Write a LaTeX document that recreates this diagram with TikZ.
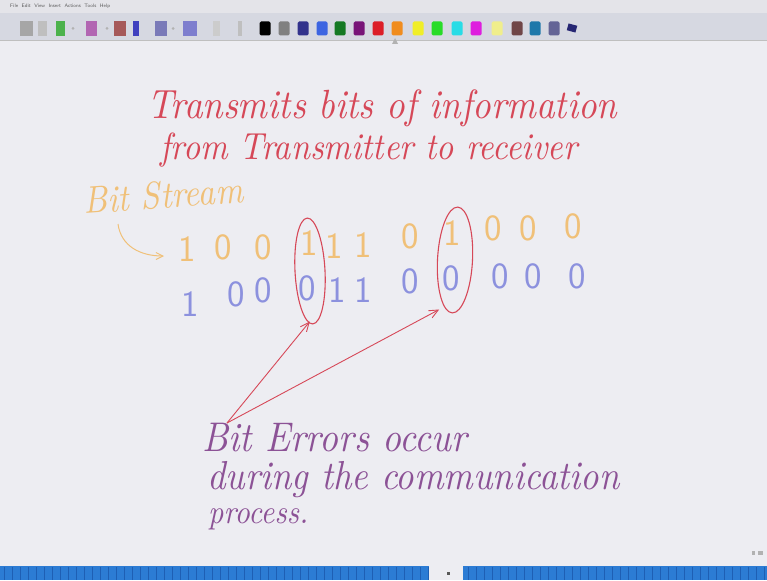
\documentclass[tikz,border=0pt]{standalone}
\usepackage{graphicx}
\usetikzlibrary{arrows.meta,shapes.geometric}
\definecolor{bg}{RGB}{237,237,242}
\definecolor{menubg}{RGB}{228,228,233}
\definecolor{toolbg}{RGB}{214,216,225}
\definecolor{inkred}{RGB}{214,72,88}
\definecolor{inkorange}{RGB}{240,192,120}
\definecolor{inkblue}{RGB}{140,145,222}
\definecolor{inkpurple}{RGB}{140,82,150}
\definecolor{barblue}{RGB}{44,124,212}
\definecolor{bardark}{RGB}{30,95,180}
\newcommand{\hw}[2]{\scalebox{1}[1.12]{\resizebox{#1}{!}{\itshape #2}}}
\tikzset{
  hand/.style={inner sep=0pt, anchor=base west},
  digit/.style={inner sep=0pt, anchor=base, font=\fontsize{37}{37}\selectfont\sffamily},
  ring/.style={draw=inkred, line width=1.1pt, ellipse, minimum width=30pt, minimum height=106pt, inner sep=0pt},
  redarrow/.style={draw=inkred, line width=0.9pt, -{Straight Barb[length=9pt,width=8pt]}},
  swatch/.style={minimum width=11pt, minimum height=14pt, inner sep=0pt, rounded corners=1.5pt}
}
\begin{document}
\begin{tikzpicture}[x=1pt,y=-1pt]
\useasboundingbox (0,0) rectangle (767,580);
\fill[bg] (0,0) rectangle (767,580);
% menu bar and toolbar
\fill[menubg] (0,0) rectangle (767,13);
\fill[toolbg] (0,13) rectangle (767,40);
\draw[gray!50, line width=0.4pt] (0,40) -- (767,40);
\node[anchor=west, inner sep=0pt, text=gray!70!black, font=\fontsize{5}{5}\selectfont\sffamily] (menu) at (10,6) {File\ \ Edit\ \ View\ \ Insert\ \ Actions\ \ Tools\ \ Help};
% toolbar icons (left)
\foreach \x/\w/\c in {20/13/gray!70, 38/9/gray!50, 56/9/green!40!gray, 86/11/violet!60, 114/12/red!30!gray, 133/6/blue!50!gray, 155/12/blue!30!gray!80, 183/14/blue!45!gray!70, 213/7/gray!40, 238/4/gray!50}
  \fill[\c] (\x,21) rectangle ++(\w,15);
\foreach \x in {73,107,173}
  \fill[gray!60] (\x,28.5) circle (1.5pt);
% colour swatches
\foreach \x/\c [count=\i] in {265/black, 284/gray, 303/{rgb,255:red,50;green,50;blue,140}, 322/{rgb,255:red,60;green,100;blue,225}, 340/{rgb,255:red,20;green,120;blue,35}, 359/{rgb,255:red,120;green,20;blue,120}, 378/{rgb,255:red,220;green,30;blue,40}, 397/{rgb,255:red,240;green,140;blue,30}, 418/{rgb,255:red,240;green,238;blue,40}, 437/{rgb,255:red,40;green,220;blue,40}, 457/{rgb,255:red,40;green,220;blue,230}, 476/{rgb,255:red,222;green,30;blue,222}, 497/{rgb,255:red,240;green,238;blue,140}, 517/{rgb,255:red,112;green,70;blue,72}, 535/{rgb,255:red,30;green,120;blue,170}, 554/{rgb,255:red,100;green,100;blue,150}}
  \node[swatch, fill=\c] (sw\i) at (\x,28.5) {};
\node[fill=gray!50!blue!60!black, minimum width=9pt, minimum height=7pt, inner sep=0pt, rotate=-15] (eraser) at (572,28) {};
\fill[gray!60] (395,38) -- (398,44) -- (392,44) -- cycle;

% red title
\node[hand, text=inkred] (t1) at (147,119) {\hw{470pt}{Transmits bits of information}};
\node[hand, text=inkred] (t2) at (160,160) {\hw{417pt}{from Transmitter to receiver}};

% bit stream label and arrow
\node[hand, text=inkorange, rotate=4] (bs) at (84,214) {\hw{160pt}{Bit Stream}};
\coordinate (bsfrom) at (118,224);
\coordinate (bsto) at (164,256);
\draw[draw=inkorange, line width=1pt, -{Straight Barb[length=7pt,width=7pt]}] (bsfrom) .. controls (121,246) and (140,256) .. (bsto);

% transmitted bits (orange)
\foreach \x/\y/\d [count=\i] in {187/261/1, 223/259/0, 263/259/0, 309/255/1, 334/258/1, 363/257/1, 410/248/0, 452/245/1, 493/240/0, 528/240/0, 573/238/0}
  \node[digit, text=inkorange] (top\i) at (\x,\y) {\d};

% received bits (blue)
\foreach \x/\y/\d [count=\i] in {190/316/1, 236/306/0, 263/302/0, 307/300/0, 337/302/1, 363/302/1, 410/293/0, 451/290/0, 500/288/0, 533/288/0, 577/288/0}
  \node[digit, text=inkblue] (bot\i) at (\x,\y) {\d};

% error rings
\node[ring, rotate=3] (e1) at (310,271) {};
\node[ring, minimum width=35pt, rotate=-3] (e2) at (455,260) {};

% error arrows
\coordinate (src) at (227,423);
\draw[redarrow] (src) -- ([xshift=-3pt,yshift=3pt]e1.south);
\draw[redarrow] (src) -- ([xshift=-13pt,yshift=4pt]e2.south);

% purple explanation
\node[hand, text=inkpurple] (x1) at (202,451) {\hw{265pt}{Bit Errors occur}};
\node[hand, text=inkpurple] (x2) at (207,489) {\hw{412pt}{during the communication}};
\node[hand, text=inkpurple] (x3) at (208,523) {\hw{100pt}{process.}};

% bottom bar
\fill[barblue] (0,566) rectangle (767,580);
\foreach \x in {4,12,...,767}
  \draw[bardark, line width=0.5pt] (\x,567) -- (\x,580);
\fill[bg] (429,565) rectangle (463,580);
\fill[gray!70!black] (447,572) rectangle (450,575);
\fill[gray!60] (752,551) rectangle (755,555);
\fill[gray!60] (758,551) rectangle (763,555);
\end{tikzpicture}
\end{document}
